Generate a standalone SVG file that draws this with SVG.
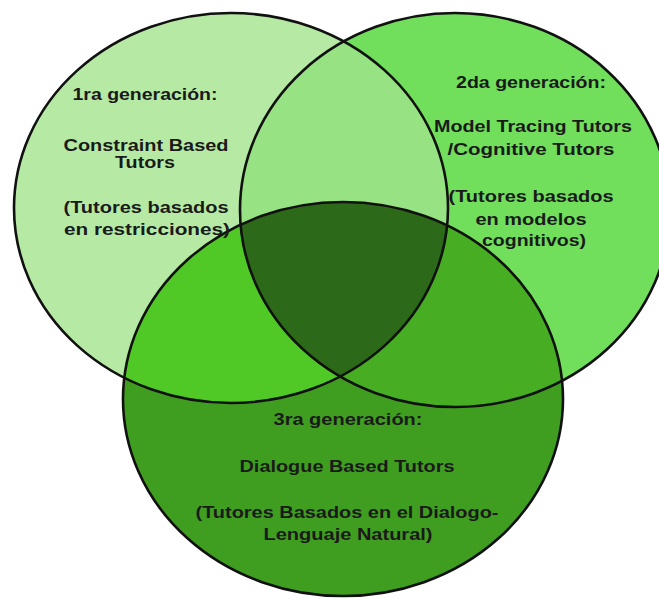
<svg xmlns="http://www.w3.org/2000/svg" width="659" height="598" viewBox="0 0 659 598">
<style>
.lbl{font-family:"Liberation Sans",Arial,sans-serif;font-weight:bold;font-size:16px;fill:#1a1a1a;text-anchor:middle}
.edge{fill:none;stroke:#111;stroke-width:2.6}
</style>
<defs>
<ellipse id="e1" cx="231" cy="208" rx="217" ry="195"/>
<ellipse id="e2" cx="455" cy="210" rx="215" ry="197"/>
<ellipse id="e3" cx="343" cy="399" rx="220" ry="197"/>
<clipPath id="c1"><use href="#e1"/></clipPath>
<clipPath id="c2"><use href="#e2"/></clipPath>
<clipPath id="c3"><use href="#e3"/></clipPath>
</defs>
<rect width="659" height="598" fill="#ffffff"/>
<g id="gen1"><use href="#e1" fill="#b6eaa4"/></g>
<g id="gen2"><use href="#e2" fill="#71de5c"/></g>
<g id="gen3"><use href="#e3" fill="#3f9e20"/></g>
<g id="overlaps">
<use href="#e2" fill="#97e383" clip-path="url(#c1)"/>
<use href="#e3" fill="#50c927" clip-path="url(#c1)"/>
<use href="#e3" fill="#47ae23" clip-path="url(#c2)"/>
<g clip-path="url(#c1)"><use href="#e3" fill="#2c6a19" clip-path="url(#c2)"/></g>
</g>
<g id="outlines">
<use href="#e1" class="edge"/>
<use href="#e2" class="edge"/>
<use href="#e3" class="edge"/>
</g>
<g id="label-gen1">
<text class="lbl" x="145" y="100" textLength="145" lengthAdjust="spacingAndGlyphs">1ra generación:</text>
<text class="lbl" x="146" y="151" textLength="165" lengthAdjust="spacingAndGlyphs">Constraint Based</text>
<text class="lbl" x="145" y="168" textLength="60" lengthAdjust="spacingAndGlyphs">Tutors</text>
<text class="lbl" x="146" y="213" textLength="165" lengthAdjust="spacingAndGlyphs">(Tutores basados</text>
<text class="lbl" x="147" y="235" textLength="166" lengthAdjust="spacingAndGlyphs">en restricciones)</text>
</g>
<g id="label-gen2">
<text class="lbl" x="531" y="88" textLength="150" lengthAdjust="spacingAndGlyphs">2da generación:</text>
<text class="lbl" x="533" y="132" textLength="198" lengthAdjust="spacingAndGlyphs">Model Tracing Tutors</text>
<text class="lbl" x="531" y="155" textLength="167" lengthAdjust="spacingAndGlyphs">/Cognitive Tutors</text>
<text class="lbl" x="531" y="202" textLength="165" lengthAdjust="spacingAndGlyphs">(Tutores basados</text>
<text class="lbl" x="531" y="225" textLength="111" lengthAdjust="spacingAndGlyphs">en modelos</text>
<text class="lbl" x="534" y="246" textLength="104" lengthAdjust="spacingAndGlyphs">cognitivos)</text>
</g>
<g id="label-gen3">
<text class="lbl" x="348" y="425" textLength="149" lengthAdjust="spacingAndGlyphs">3ra generación:</text>
<text class="lbl" x="347" y="472" textLength="215" lengthAdjust="spacingAndGlyphs">Dialogue Based Tutors</text>
<text class="lbl" x="347" y="518" textLength="303" lengthAdjust="spacingAndGlyphs">(Tutores Basados en el Dialogo-</text>
<text class="lbl" x="348" y="540" textLength="169" lengthAdjust="spacingAndGlyphs">Lenguaje Natural)</text>
</g>
</svg>
